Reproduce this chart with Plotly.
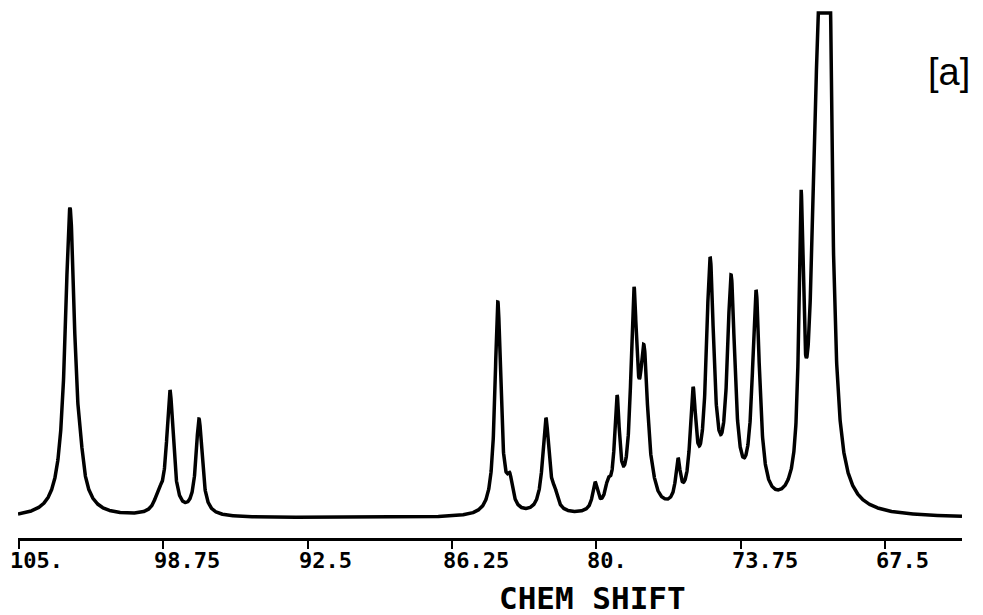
import numpy as np
import plotly.graph_objects as go

# Resolved lines of the 13C spectrum: position (ppm), apparent height above
# baseline at that position, and Lorentzian half-width (ppm)
peak_ppm = [102.79, 102.33, 98.95, 98.46, 97.20, 84.26, 83.74, 82.18, 81.79,
            80.05, 79.49, 79.10, 78.37, 77.93, 77.54, 76.46, 75.81, 75.07,
            74.16, 73.08, 71.13, 70.55, 70.11, 69.44]
peak_height = [310, 85, 30, 128, 99, 216, 45, 100, 31,
               36, 40, 123, 231, 173, 48, 60, 131, 261,
               243, 228, 328, 380, 2525, 78]
peak_hwhm = [0.25, 0.12, 0.20, 0.17, 0.16, 0.15, 0.15, 0.17, 0.15,
             0.13, 0.15, 0.13, 0.16, 0.20, 0.15, 0.12, 0.15, 0.20,
             0.20, 0.19, 0.11, 0.20, 0.13, 0.10]

# Plotter full scale (the tallest line is cut off at the top)
full_scale = 505

tick_vals = [105.0, 98.75, 92.5, 86.25, 80.0, 73.75, 67.5]
tick_text = ["105.", "98.75", "92.5", "86.25", "80.", "73.75", "67.5"]

x_range = [105.04, 64.16]


def lorentz(x, x0, g):
    return 1.0 / (1.0 + ((x - x0) / g) ** 2)


pos = np.array(peak_ppm)
hw = np.array(peak_hwhm)
# amplitudes such that the summed spectrum passes through each listed height
A = np.array([[lorentz(p, pj, gj) for pj, gj in zip(pos, hw)] for p in pos])
amps = np.clip(np.linalg.solve(A, np.array(peak_height, float)), 0, None)

shift = np.linspace(x_range[0], x_range[1], 6000)
intensity = np.zeros_like(shift)
for a, p, g in zip(amps, pos, hw):
    intensity += a * lorentz(shift, p, g)
intensity = np.minimum(intensity, full_scale)

fig = go.Figure()
fig.add_trace(go.Scatter(
    x=shift, y=intensity, mode="lines",
    line=dict(color="black", width=3.5),
    hoverinfo="skip", showlegend=False,
))

mono = "DejaVu Sans Mono"
annotations = []
for v, t in zip(tick_vals, tick_text):
    annotations.append(dict(
        x=v, y=0, xref="x", yref="paper", text=f"<b>{t}</b>",
        showarrow=False, xanchor="left", yanchor="top",
        xshift=-11, yshift=-8,
        font=dict(family=mono, size=22, color="black"),
    ))
annotations.append(dict(
    x=(592 - 18) / 944, y=0, xref="paper", yref="paper",
    text="<b>CHEM SHIFT</b>",
    showarrow=False, xanchor="center", yanchor="middle", yshift=-60,
    font=dict(family=mono, size=31, color="black"),
))
annotations.append(dict(
    x=0.986, y=0.8826, xref="paper", yref="paper", text="[a]",
    showarrow=False, xanchor="center", yanchor="middle",
    font=dict(family="Liberation Sans", size=38, color="black"),
))

fig.update_layout(
    width=983, height=615,
    margin=dict(l=18, r=21, t=10, b=77),
    paper_bgcolor="white", plot_bgcolor="white",
    xaxis=dict(
        range=x_range, showgrid=False, zeroline=False,
        showline=True, linecolor="black", linewidth=2.5,
        ticks="outside", ticklen=8, tickwidth=2, tickcolor="black",
        tickvals=tick_vals, showticklabels=False,
    ),
    yaxis=dict(
        range=[-20, 508], showgrid=False, zeroline=False,
        showline=False, showticklabels=False, ticks="",
    ),
    annotations=annotations,
)

fig.write_html("out.html")
